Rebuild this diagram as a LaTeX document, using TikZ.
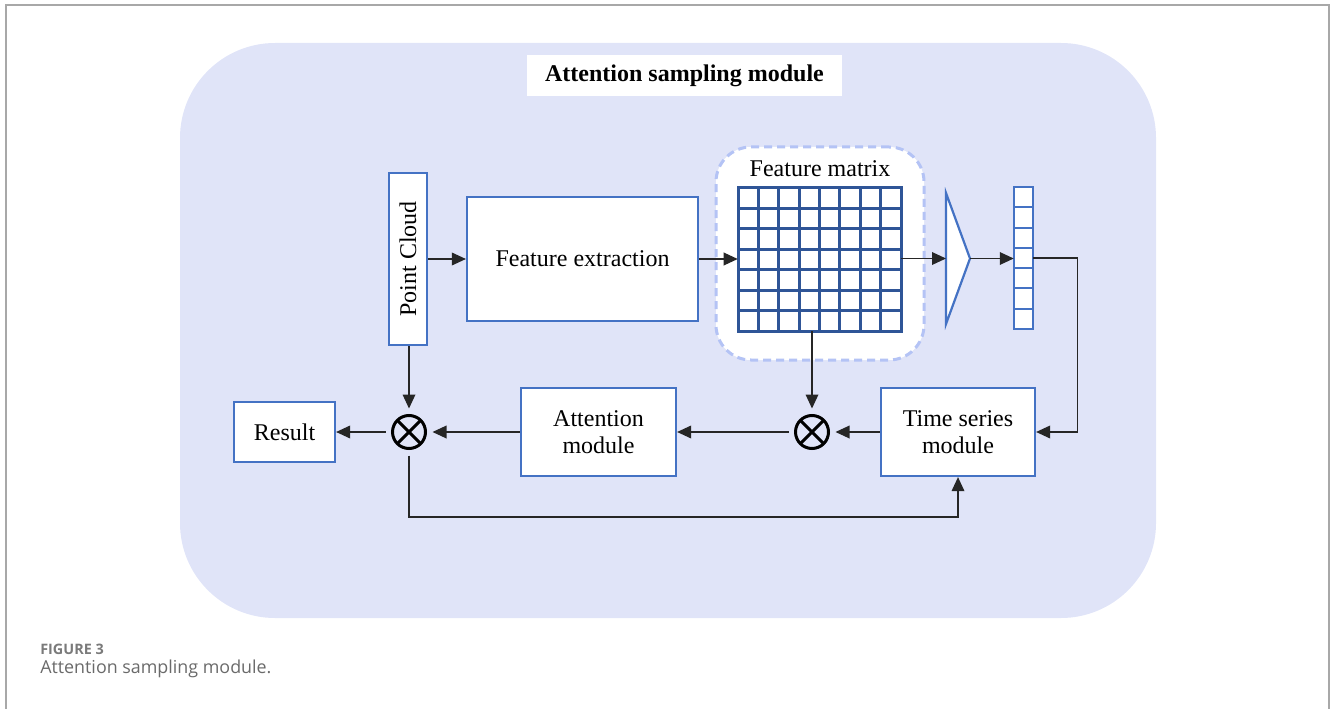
\documentclass[tikz,border=0pt]{standalone}
\usepackage{fontspec}
\setmainfont{Liberation Serif}
\newfontfamily\capfont{Open Sans}
\usetikzlibrary{arrows.meta,calc}
\newlength{\upx}\setlength{\upx}{0.75pt}
\definecolor{panel}{HTML}{E0E4F8}
\definecolor{boxblue}{HTML}{4472C4}
\definecolor{gridblue}{HTML}{2F5597}
\definecolor{dashblue}{HTML}{B4C3F5}
\definecolor{framegray}{HTML}{A8A8A8}
\definecolor{capgray}{HTML}{6A6A6A}
\definecolor{labgray}{HTML}{7A7A7A}
\begin{document}
\begin{tikzpicture}[x=\upx,y=-\upx,
  lbl/.style={font=\fontsize{18}{20.5}\selectfont},
  blk/.style={lbl, draw=boxblue, fill=white, line width=2.2\upx, inner sep=0pt, align=center},
  conn/.style={draw=black!85, line width=1.3\upx},
  arr/.style={conn, -{Triangle[length=10.5pt,width=9.5pt]}},
  mult/.style={circle, draw=black, line width=3\upx, minimum size=33\upx, inner sep=0pt, outer sep=7\upx},
  gridline/.style={draw=gridblue, line width=3\upx, line cap=rect},
  cellline/.style={draw=boxblue, line width=2\upx, line cap=rect},
]
\useasboundingbox (0,0) rectangle (1333,709);

% outer frame, open at the bottom
\draw[framegray, line width=2\upx] (6,709) -- (6,5) -- (1329,5) -- (1329,709);

% module panel
\fill[panel, rounded corners=95\upx] (180,43) rectangle (1156,618);
\node[fill=white, minimum width=315\upx, minimum height=41\upx, inner sep=0pt,
      font=\bfseries\fontsize{18}{20.5}\selectfont] (title) at (684.5,75.5) {Attention sampling module};

% blocks
\node[blk, rotate=90, minimum width=172\upx, minimum height=38\upx] (pc) at (408,259) {Point Cloud};
\node[blk, minimum width=231\upx, minimum height=124\upx] (fe) at (582.5,259) {Feature extraction};

% feature matrix
\node[draw=dashblue, fill=white, line width=3\upx, dash pattern=on 6pt off 3.75pt,
      rounded corners=35\upx, minimum width=208\upx, minimum height=213\upx] (fmbox) at (820,253.5) {};
\node[lbl] (fmlabel) at (820,169) {Feature matrix};
\node[minimum width=163\upx, minimum height=143\upx, inner sep=0pt] (grid) at (819.5,259.5) {};
\foreach \i in {0,...,8}
  \draw[gridline] (738+\i*20.375,188) -- (738+\i*20.375,331);
\foreach \j in {0,...,7}
  \draw[gridline] (738,188+\j*20.43) -- (901,188+\j*20.43);

% pooling triangle
\draw[boxblue, fill=white, line width=2.2\upx, line join=miter] (946,193) -- (970,258.5) -- (946,324) -- cycle;
\coordinate (triL) at (946,258.5);
\coordinate (triR) at (970,258.5);

% feature vector
\node[minimum width=19\upx, minimum height=142\upx, inner sep=0pt, fill=white] (vec) at (1023.5,258) {};
\draw[cellline] (1014,187) rectangle (1033,329);
\foreach \j in {1,...,6}
  \draw[cellline] (1014,187+\j*20.29) -- (1033,187+\j*20.29);

\node[blk, minimum width=154\upx, minimum height=88\upx] (ts) at (958,432) {Time series\\module};
\node[blk, minimum width=155\upx, minimum height=88\upx] (att) at (598.5,432) {Attention\\module};
\node[blk, minimum width=101\upx, minimum height=60\upx] (res) at (284.5,432) {Result};

% multiplication nodes
\node[mult] (m2) at (812,432) {};
\node[mult] (m1) at (409,432) {};
\foreach \m in {m1,m2}
  \draw[line width=3\upx] ($(\m.center)+(45:16.5)$) -- ($(\m.center)+(225:16.5)$)
                          ($(\m.center)+(135:16.5)$) -- ($(\m.center)+(-45:16.5)$);

% connectors
\draw[arr] (pc) -- (fe);
\draw[arr] (fe.east) -- (fe.east -| grid.west);
\draw[arr] (grid.east |- triL) -- (triL);
\draw[arr] (triR) -- (vec.west |- triR);
\draw[arr] (vec.east) -- ++(44,0) |- (ts.east);
\draw[arr] (ts.west) -- (m2.east);
\draw[arr] (m2.north |- grid.south) -- (m2.north);
\draw[arr] (m2.west) -- (att.east);
\draw[arr] (att.west) -- (m1.east);
\draw[arr] (m1.west) -- (res.east);
\draw[arr] (m1.north |- pc.west) -- (m1.north);
\draw[arr] (m1.south) -- (m1.south |- 0,517) -| (ts.south);

% caption
\node[anchor=base west, inner sep=0pt, text=labgray, font=\capfont\bfseries\fontsize{10.8}{12}\selectfont] (figlabel) at (40,654.5) {FIGURE 3};
\node[anchor=base west, inner sep=0pt, text=capgray, font=\capfont\fontsize{13.4}{15}\selectfont] (figcap) at (40,673.5) {Attention sampling module.};
\end{tikzpicture}
\end{document}
